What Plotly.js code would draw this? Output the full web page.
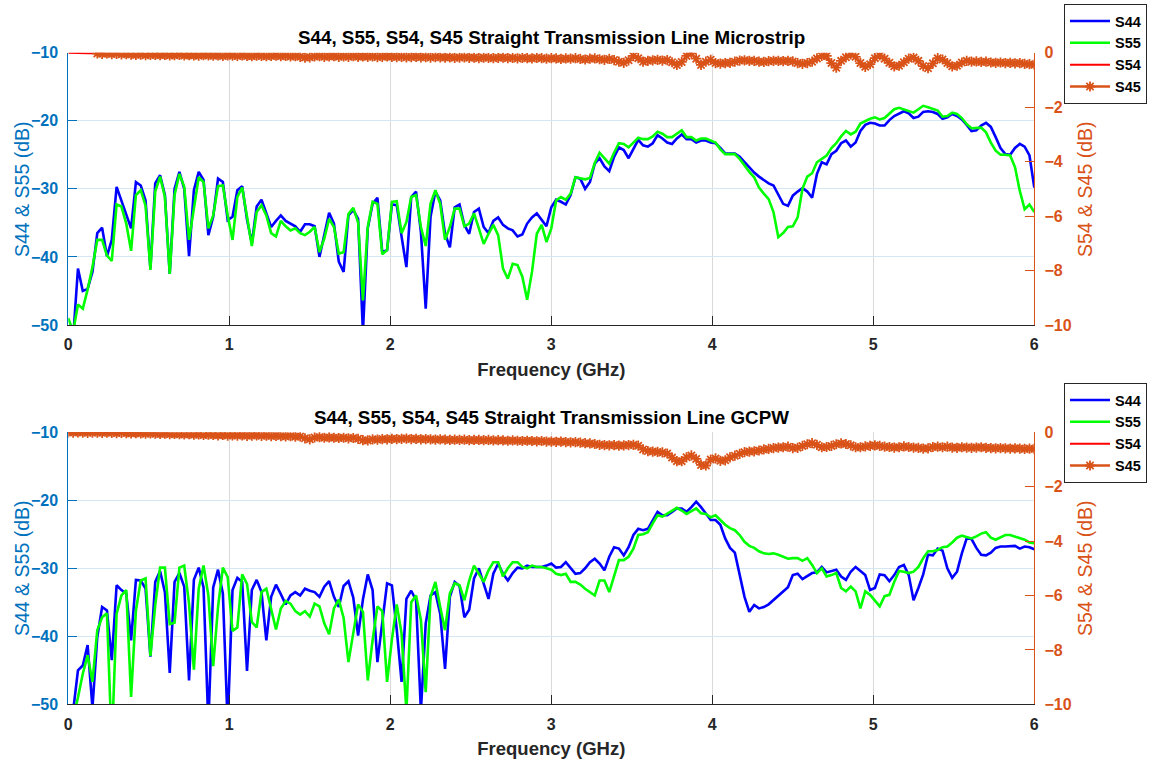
<!DOCTYPE html>
<html><head><meta charset="utf-8">
<script src="https://cdn.plot.ly/plotly-3.0.1.min.js"></script>
<style>html,body{margin:0;padding:0;background:#fff}</style>
</head><body><div id="chart" style="width:1149px;height:761px"></div>
<script>
// Frequency sweep: 0 to 6 GHz, 201 points (0.03 GHz step)
const freq = [];
for (let i = 0; i <= 200; i++) freq.push(+(i * 0.03).toFixed(2));

const xTicks = [0, 1, 2, 3, 4, 5, 6];
const leftTicks = [-50, -40, -30, -20, -10];
const rightTicks = [-10, -8, -6, -4, -2, 0];
const seriesNames = ['S44', 'S55', 'S54', 'S45'];
const titleTop = 'S44, S55, S54, S45 Straight Transmission Line Microstrip';
const titleBottom = 'S44, S55, S54, S45 Straight Transmission Line GCPW';
const xTitle = 'Frequency (GHz)';
const yLeftTitle = 'S44 & S55 (dB)';
const yRightTitle = 'S54 & S45 (dB)';

// ---------- Microstrip (top) ----------
const s44Top = [
-52,-52,-41.7,-45,-44.7,-42.2,-36.5,-35.7,-39.9,-37.5,-29.7,-31.7,-33.9,-35.8,-29,-29.5,-31.7,-41.7,-29.2,-28,-30.9,-42.5,-30,-27.5,-30,-39.9,-30.2,-27.5,-28.7,-36.8,-34.1,-28.5,-29,-34.6,-34.1,-30.2,-29.6,-34.5,-38,-32.6,-31.6,-33.6,-35.6,-34.7,-33.9,-34.7,-35.1,-35.5,-36.3,-35.2,-35.2,-35.5,-40,-36.6,-33.5,-35.1,-40.7,-42.2,-33.9,-33.1,-34.4,-51,-35.8,-32.2,-31.3,-39.3,-39,
-32.3,-32.4,-37,-41.5,-31.2,-30.4,-36.3,-47.6,-34.1,-30.4,-31.7,-36.6,-38.6,-32.7,-32.3,-35.3,-36.6,-33.4,-32.9,-35.6,-36.5,-34.7,-34.2,-35.3,-35.8,-36.1,-37,-36.7,-35.1,-34.2,-33.6,-34.6,-35.5,-32.7,-31.6,-31.9,-32.3,-30.9,-28.3,-28.5,-30,-29,-26.3,-25.5,-26.7,-27.4,-25.3,-23.9,-24.3,-25.5,-24.1,-22.8,-23.6,-23.8,-23.3,-22.1,-22.6,-23.2,-23.4,-22.6,-22,-22.7,-22.7,-23.2,-22.9,-22.9,-23.2,
-23.3,-24,-24.8,-24.8,-24.8,-25.3,-26.1,-26.9,-27.6,-28.2,-28.7,-29.2,-29.5,-30.9,-32.2,-32.5,-31,-30.4,-29.9,-30.4,-31.3,-27.8,-26.1,-26.4,-24.9,-24.4,-23.3,-22.9,-23.8,-23.2,-21.5,-20.6,-20.3,-20.4,-20.7,-20.7,-19.9,-19.3,-18.9,-18.6,-18.9,-19.6,-19.4,-18.7,-18.6,-18.7,-19,-19.7,-19.5,-19,-19.3,-19.8,-20.6,-21.5,-21.4,-20.7,-20.3,-20.9,-22.4,-24,-24.9,-25,-24,-23.4,-23.8,-25.1,-29.8
];
const s55Top = [
-49,-51,-47,-47.6,-44.8,-41.5,-37.5,-37.5,-39.8,-40.6,-32.3,-32.6,-35.1,-39.1,-30.9,-30.2,-32.5,-41.9,-30.4,-28.2,-31.2,-42.5,-30.9,-27.8,-29.7,-37.5,-32.9,-28.3,-29,-35.8,-33.9,-29.6,-29.5,-33.9,-37.5,-31.2,-29.8,-34.1,-38.4,-33.4,-32.4,-33.9,-36.5,-37,-34.7,-35.5,-36.1,-35.8,-36.5,-36.8,-36.3,-35.6,-39.3,-37.3,-34.4,-35.6,-39.5,-39.3,-33.7,-32.8,-34.9,-46.4,-35.6,-31.9,-32.2,-39.6,-39,
-31.9,-31.8,-36.5,-34.9,-31.2,-30.9,-35.6,-38.4,-32.2,-30.2,-32.2,-37.5,-35.6,-32.9,-32.9,-35.5,-35.1,-33.6,-35.8,-38.1,-36.6,-35.3,-36.8,-41.7,-43.2,-41,-41.2,-42.9,-46.3,-42.2,-36.6,-35.3,-37.8,-35.8,-31.7,-31.2,-31.6,-30.7,-28.3,-28.4,-28.6,-28.4,-26.2,-24.7,-25.5,-26.3,-24.7,-23.3,-23.4,-23.9,-23.2,-22.5,-22.7,-22.7,-22.3,-21.6,-21.9,-22.4,-22.4,-21.9,-21.4,-22.4,-22.4,-22.9,-22.6,-22.6,-22.9,
-23.2,-24.2,-24.9,-24.9,-24.9,-25.6,-26.6,-27.5,-28.3,-29.8,-30.7,-31.5,-33.4,-37.1,-36.5,-35.6,-35.5,-34.2,-30,-28.2,-27.7,-26.1,-25.6,-25.1,-24,-23.3,-22.3,-21.5,-22,-21.6,-20.4,-20,-19.7,-19.5,-19.8,-19.6,-18.9,-18.3,-18.1,-18.3,-18.5,-18.8,-18.3,-17.8,-18,-18.3,-18.5,-19.4,-19.3,-18.8,-19,-19.6,-20.5,-21.1,-21,-21,-21.7,-23.2,-24.4,-25,-25,-25.1,-26.8,-30.3,-33,-32.3,-33.4
];
const s54Top = [
0,-0.01,-0.01,-0.02,-0.02,-0.02,-0.03,-0.04,-0.03,-0.05,-0.04,-0.06,-0.05,-0.07,-0.08,-0.07,-0.09,-0.08,-0.08,-0.09,-0.08,-0.10,-0.09,-0.08,-0.10,-0.09,-0.10,-0.11,-0.09,-0.10,-0.11,-0.10,-0.12,-0.10,-0.11,-0.12,-0.10,-0.12,-0.13,-0.11,-0.12,-0.13,-0.12,-0.11,-0.13,-0.12,-0.14,-0.13,-0.15,-0.18,-0.17,-0.14,-0.13,-0.15,-0.14,-0.13,-0.15,-0.14,-0.15,-0.13,-0.15,-0.14,-0.15,-0.14,-0.16,-0.15,-0.14,
-0.15,-0.16,-0.15,-0.17,-0.16,-0.15,-0.17,-0.16,-0.18,-0.16,-0.17,-0.18,-0.17,-0.19,-0.18,-0.17,-0.19,-0.18,-0.20,-0.18,-0.19,-0.20,-0.19,-0.18,-0.20,-0.19,-0.21,-0.19,-0.20,-0.21,-0.19,-0.20,-0.22,-0.20,-0.21,-0.23,-0.21,-0.22,-0.20,-0.23,-0.25,-0.22,-0.21,-0.24,-0.26,-0.23,-0.27,-0.36,-0.40,-0.30,-0.12,-0.20,-0.33,-0.30,-0.28,-0.26,-0.29,-0.27,-0.38,-0.48,-0.37,-0.12,-0.02,-0.22,-0.45,-0.33,-0.26,
-0.38,-0.40,-0.38,-0.37,-0.33,-0.29,-0.28,-0.30,-0.30,-0.33,-0.34,-0.31,-0.30,-0.30,-0.31,-0.30,-0.32,-0.42,-0.45,-0.42,-0.33,-0.21,-0.12,-0.20,-0.42,-0.58,-0.30,-0.17,-0.06,-0.15,-0.42,-0.56,-0.46,-0.20,-0.10,-0.22,-0.41,-0.54,-0.52,-0.35,-0.22,-0.18,-0.30,-0.53,-0.60,-0.43,-0.20,-0.25,-0.38,-0.50,-0.48,-0.36,-0.30,-0.33,-0.32,-0.34,-0.33,-0.36,-0.37,-0.36,-0.38,-0.37,-0.39,-0.38,-0.41,-0.42,-0.44
];
const s45Top = [
0.3,0.3,0.3,0.3,0.3,0.3,-0.03,-0.04,-0.03,-0.05,-0.04,-0.06,-0.05,-0.07,-0.08,-0.07,-0.09,-0.08,-0.08,-0.09,-0.08,-0.10,-0.09,-0.08,-0.10,-0.09,-0.10,-0.11,-0.09,-0.10,-0.11,-0.10,-0.12,-0.10,-0.11,-0.12,-0.10,-0.12,-0.13,-0.11,-0.12,-0.13,-0.12,-0.11,-0.13,-0.12,-0.14,-0.13,-0.15,-0.18,-0.17,-0.14,-0.13,-0.15,-0.14,-0.13,-0.15,-0.14,-0.15,-0.13,-0.15,-0.14,-0.15,-0.14,-0.16,-0.15,-0.14,
-0.15,-0.16,-0.15,-0.17,-0.16,-0.15,-0.17,-0.16,-0.18,-0.16,-0.17,-0.18,-0.17,-0.19,-0.18,-0.17,-0.19,-0.18,-0.20,-0.18,-0.19,-0.20,-0.19,-0.18,-0.20,-0.19,-0.21,-0.19,-0.20,-0.21,-0.19,-0.20,-0.22,-0.20,-0.21,-0.23,-0.21,-0.22,-0.20,-0.23,-0.25,-0.22,-0.21,-0.24,-0.26,-0.23,-0.27,-0.33,-0.37,-0.28,-0.12,-0.20,-0.33,-0.30,-0.28,-0.26,-0.29,-0.27,-0.35,-0.45,-0.34,-0.12,-0.02,-0.22,-0.45,-0.33,-0.26,
-0.38,-0.40,-0.38,-0.37,-0.33,-0.29,-0.28,-0.30,-0.30,-0.33,-0.34,-0.31,-0.30,-0.30,-0.31,-0.30,-0.32,-0.38,-0.41,-0.38,-0.33,-0.21,-0.12,-0.12,-0.38,-0.55,-0.30,-0.17,-0.06,-0.15,-0.38,-0.52,-0.42,-0.20,-0.10,-0.22,-0.37,-0.50,-0.48,-0.35,-0.22,-0.18,-0.30,-0.49,-0.57,-0.39,-0.20,-0.25,-0.38,-0.50,-0.48,-0.36,-0.30,-0.33,-0.32,-0.34,-0.33,-0.36,-0.37,-0.36,-0.38,-0.37,-0.39,-0.38,-0.41,-0.42,-0.44
];

// ---------- GCPW (bottom) ----------
const s44Bot = [
-55,-51,-45,-44.3,-41.3,-50.5,-40.1,-35.7,-36.2,-43.5,-32.5,-33.2,-33.7,-40.6,-31.7,-31.8,-33,-43,-32,-30.4,-33.5,-45.4,-32,-30.7,-32.7,-46.5,-31.7,-29.9,-32.8,-53,-32.8,-30.2,-33.7,-53,-33.2,-31.4,-32,-45.1,-33.2,-31.7,-33.5,-40.6,-34.2,-32.4,-33.8,-35.3,-34,-33.5,-34,-33,-33.3,-33.5,-34.2,-32.7,-31.9,-34.2,-35.7,-32.6,-31.9,-34.3,-39.9,-34.6,-30.9,-33.2,-43.8,-37.6,-32.2,
-32.5,-39,-46.7,-34.5,-33.3,-34.7,-51,-38.1,-34,-33.5,-36.7,-44.8,-34.2,-32,-32.6,-37.2,-36.1,-31.5,-30,-32.3,-34.5,-30.8,-29.3,-30.8,-31.8,-30.7,-29.9,-30,-29.6,-29.8,-29.8,-29.8,-29.6,-29.3,-29.9,-29.8,-29.1,-30,-30.8,-30.7,-30,-29.1,-28.6,-29.3,-30.3,-28.3,-26.9,-27.1,-28.1,-26.9,-25.1,-24.2,-24.4,-24.2,-22.9,-21.7,-22.2,-22.2,-21.7,-21.2,-21.2,-21.7,-21,-20.2,-21,-22,-22.9,
-22.9,-23.6,-25.6,-27,-27.7,-31,-34.2,-36.4,-35.4,-35.9,-35.7,-35.3,-34.7,-34,-33.4,-32.8,-31,-30.8,-31.6,-31.2,-30.7,-30.6,-29.8,-30.6,-30.4,-30.2,-31.2,-31.7,-30.5,-29.8,-30.4,-31,-33.2,-32.9,-30.9,-31,-31.9,-31,-29.8,-29.5,-31,-34.7,-32.9,-30.9,-28,-28.1,-27.1,-27.4,-30,-31.4,-30.5,-27.8,-25.6,-25.7,-27,-28,-28.1,-27.7,-27,-26.8,-26.8,-26.8,-26.7,-27.1,-26.8,-26.9,-27.2
];
const s55Bot = [
-55,-52,-49,-45.5,-42.8,-46.7,-39.1,-37.2,-36.6,-56,-36.7,-34,-33.2,-48.9,-36.2,-31.8,-31.5,-42.9,-35.4,-29.9,-29.9,-38.2,-38,-29.9,-29.6,-35.2,-44.9,-33,-29.6,-34,-44.4,-35.7,-29.9,-31.3,-39.2,-38.7,-30.9,-32.3,-37.9,-38.7,-33.5,-33,-35.9,-39,-35.9,-34.8,-35.2,-36.3,-36.8,-36.3,-37.1,-35.2,-35.6,-38.1,-39.7,-35.9,-34.6,-37.3,-43.8,-39.2,-35.3,-36.4,-46.5,-40.6,-35.6,-36.3,-46.7,
-40.5,-35.3,-39.6,-51,-35,-34,-37.6,-48.2,-34.2,-32,-35.7,-39.1,-33.7,-32.2,-32.5,-34.7,-31.8,-29.6,-30.8,-32,-30.3,-29.1,-29.1,-31.2,-30,-29.1,-29.1,-29.8,-30,-29.6,-29.8,-29.8,-30,-30.2,-30.8,-31,-30.8,-32,-32,-32.4,-33,-33.5,-34,-31.8,-31.8,-33.5,-31,-28.8,-28.8,-28.3,-27.1,-25.1,-25,-24.7,-23.4,-22.2,-22.4,-22,-21.5,-21.1,-21.5,-22,-21.6,-21.2,-21.9,-22,-22.5,
-22.2,-22.9,-23.6,-24.1,-24.4,-25.1,-26.1,-26.7,-27,-27.5,-27.8,-27.9,-27.8,-28,-28.3,-28.6,-28.5,-28.5,-28.9,-28.5,-29.5,-30.7,-30,-31.2,-31,-30.7,-32.9,-33.4,-32.7,-33.4,-35.9,-33.4,-33.9,-34.7,-35.6,-34.1,-33.9,-32,-30.4,-30.5,-30.7,-30.5,-29.8,-28.5,-27.5,-27.5,-27.3,-26.9,-26.8,-26.2,-25.5,-25.2,-25.4,-25.6,-25.3,-24.9,-24.7,-25.5,-25.8,-25.4,-25.1,-25.1,-25.3,-25.6,-25.8,-26.2,-26.3
];
const s54Bot = [
0,-0.01,0,-0.01,-0.02,-0.01,-0.01,-0.02,-0.01,-0.02,-0.03,-0.02,-0.03,-0.04,-0.03,-0.04,-0.05,-0.04,-0.05,-0.06,-0.05,-0.07,-0.06,-0.07,-0.08,-0.07,-0.09,-0.08,-0.10,-0.09,-0.10,-0.11,-0.10,-0.12,-0.11,-0.12,-0.11,-0.13,-0.12,-0.11,-0.13,-0.12,-0.14,-0.13,-0.14,-0.15,-0.14,-0.16,-0.15,-0.22,-0.26,-0.19,-0.18,-0.20,-0.19,-0.20,-0.21,-0.20,-0.22,-0.21,-0.24,-0.29,-0.30,-0.26,-0.27,-0.25,-0.26,
-0.24,-0.25,-0.24,-0.23,-0.25,-0.24,-0.26,-0.25,-0.26,-0.27,-0.26,-0.27,-0.28,-0.27,-0.28,-0.27,-0.29,-0.28,-0.28,-0.29,-0.28,-0.30,-0.29,-0.30,-0.31,-0.30,-0.31,-0.32,-0.31,-0.32,-0.33,-0.32,-0.34,-0.34,-0.35,-0.34,-0.36,-0.37,-0.36,-0.38,-0.40,-0.41,-0.43,-0.46,-0.47,-0.48,-0.47,-0.49,-0.48,-0.47,-0.46,-0.49,-0.63,-0.69,-0.71,-0.72,-0.74,-0.78,-0.93,-1.06,-1.06,-0.92,-0.85,-0.98,-1.20,-1.22,-1.00,
-0.96,-1.05,-1.03,-0.92,-0.86,-0.79,-0.73,-0.71,-0.70,-0.67,-0.63,-0.61,-0.58,-0.56,-0.55,-0.53,-0.58,-0.57,-0.47,-0.40,-0.37,-0.46,-0.55,-0.54,-0.50,-0.44,-0.41,-0.43,-0.48,-0.55,-0.55,-0.52,-0.50,-0.48,-0.50,-0.53,-0.54,-0.53,-0.52,-0.50,-0.54,-0.56,-0.57,-0.60,-0.59,-0.54,-0.50,-0.51,-0.53,-0.56,-0.57,-0.55,-0.56,-0.57,-0.56,-0.55,-0.57,-0.58,-0.59,-0.58,-0.59,-0.60,-0.59,-0.60,-0.61,-0.60,-0.61
];
const s45Bot = [
0,-0.01,0,-0.01,-0.02,-0.01,-0.01,-0.02,-0.01,-0.02,-0.03,-0.02,-0.03,-0.04,-0.03,-0.04,-0.05,-0.04,-0.05,-0.06,-0.05,-0.07,-0.06,-0.07,-0.08,-0.07,-0.09,-0.08,-0.10,-0.09,-0.10,-0.11,-0.10,-0.12,-0.11,-0.12,-0.11,-0.13,-0.12,-0.11,-0.13,-0.12,-0.14,-0.13,-0.14,-0.15,-0.14,-0.16,-0.15,-0.22,-0.26,-0.19,-0.18,-0.20,-0.19,-0.20,-0.21,-0.20,-0.22,-0.21,-0.24,-0.29,-0.30,-0.26,-0.27,-0.25,-0.26,
-0.24,-0.25,-0.24,-0.23,-0.25,-0.24,-0.26,-0.25,-0.26,-0.27,-0.26,-0.27,-0.28,-0.27,-0.28,-0.27,-0.29,-0.28,-0.28,-0.29,-0.28,-0.30,-0.29,-0.30,-0.31,-0.30,-0.31,-0.32,-0.31,-0.32,-0.33,-0.32,-0.34,-0.34,-0.35,-0.34,-0.36,-0.37,-0.36,-0.38,-0.40,-0.41,-0.43,-0.46,-0.47,-0.48,-0.47,-0.49,-0.48,-0.47,-0.46,-0.49,-0.63,-0.69,-0.71,-0.72,-0.74,-0.78,-0.93,-1.06,-1.06,-0.92,-0.85,-0.98,-1.20,-1.22,-1.00,
-0.96,-1.05,-1.03,-0.92,-0.86,-0.79,-0.73,-0.71,-0.70,-0.67,-0.63,-0.61,-0.58,-0.56,-0.55,-0.53,-0.58,-0.57,-0.50,-0.44,-0.40,-0.46,-0.55,-0.54,-0.50,-0.44,-0.41,-0.43,-0.48,-0.55,-0.55,-0.52,-0.50,-0.48,-0.50,-0.53,-0.54,-0.56,-0.55,-0.52,-0.54,-0.56,-0.57,-0.60,-0.59,-0.54,-0.53,-0.55,-0.53,-0.56,-0.57,-0.55,-0.56,-0.57,-0.56,-0.55,-0.57,-0.58,-0.59,-0.58,-0.59,-0.60,-0.59,-0.60,-0.61,-0.60,-0.61
];

// ---------- styling ----------
const W = 1149, H = 761;
const FONT = 'Liberation Sans, Arial, Helvetica, sans-serif';
const BLUE_AX = '#0072BD', ORANGE_AX = '#D95319', DARK = '#262626';
const px = v => v / W, py = v => 1 - v / H;
const xDom = [px(68.3), px(1034.3)];

function traces(s44, s55, s54, s45, xa, yl, yr, lg) {
  return [
    {x: freq, y: s44, xaxis: xa, yaxis: yl, name: seriesNames[0], legend: lg, mode: 'lines',
     line: {color: '#0000FF', width: 2.6}},
    {x: freq, y: s55, xaxis: xa, yaxis: yl, name: seriesNames[1], legend: lg, mode: 'lines',
     line: {color: '#00FF00', width: 2.6}},
    {x: freq, y: s54, xaxis: xa, yaxis: yr, name: seriesNames[2], legend: lg, mode: 'lines',
     line: {color: '#FF0000', width: 2}},
    {x: freq, y: s45, xaxis: xa, yaxis: yr, name: seriesNames[3], legend: lg, mode: 'lines+markers',
     line: {color: ORANGE_AX, width: 2.6},
     marker: {symbol: 'asterisk-open', size: 8.5, color: ORANGE_AX, line: {color: ORANGE_AX, width: 1.8}}}
  ];
}

function xAxis(anchor) {
  return {domain: xDom, anchor: anchor, range: [0, 6], tickvals: xTicks, ticks: 'inside', ticklen: 9,
    tickcolor: DARK, showline: true, linecolor: DARK, linewidth: 1, showgrid: true, gridcolor: '#d9d9d9',
    zeroline: false, ticklabelstandoff: 5, tickfont: {family: FONT, size: 16, color: DARK, weight: 'bold'},
    title: {text: xTitle, font: {family: FONT, size: 18.5, color: DARK, weight: 'bold'}, standoff: 10}};
}
function yLeft(dom, anchor) {
  return {domain: dom, anchor: anchor, range: [-50, -10], tickvals: leftTicks, ticks: 'inside', ticklen: 9,
    tickcolor: BLUE_AX, showline: true, linecolor: BLUE_AX, linewidth: 1, showgrid: true, gridcolor: '#d6e7f4',
    zeroline: false, ticklabelstandoff: 6, tickfont: {family: FONT, size: 16, color: BLUE_AX, weight: 'bold'}};
}
function yRight(over, anchor) {
  return {overlaying: over, side: 'right', anchor: anchor, range: [-10, 0], tickvals: rightTicks, ticks: 'inside',
    ticklen: 9, tickcolor: ORANGE_AX, showline: true, linecolor: ORANGE_AX, linewidth: 1, showgrid: false,
    zeroline: false, ticklabelstandoff: 6, tickfont: {family: FONT, size: 16, color: ORANGE_AX, weight: 'bold'}};
}
function legendBox(yTop) {
  return {x: px(1064), y: py(yTop), xanchor: 'left', yanchor: 'top', bgcolor: '#ffffff',
    bordercolor: DARK, borderwidth: 1, font: {family: FONT, size: 14.5, color: '#000', weight: 'bold'},
    tracegroupgap: 0, itemwidth: 40};
}
function note(text, x, y, size, color, weight, angle) {
  return {text: text, xref: 'paper', yref: 'paper', x: px(x), y: py(y), xanchor: 'center', yanchor: 'middle',
    showarrow: false, textangle: angle || 0, font: {family: FONT, size: size, color: color, weight: weight}};
}

const data = [].concat(
  traces(s44Top, s55Top, s54Top, s45Top, 'x', 'y', 'y2', 'legend'),
  traces(s44Bot, s55Bot, s54Bot, s45Bot, 'x2', 'y3', 'y4', 'legend2')
);

const layout = {
  width: W, height: H, margin: {l: 0, r: 0, t: 0, b: 0},
  paper_bgcolor: '#fff', plot_bgcolor: '#fff', font: {family: FONT},
  showlegend: true,
  xaxis: xAxis('y'),
  yaxis: yLeft([py(325), py(52.7)], 'x'),
  yaxis2: yRight('y', 'x'),
  xaxis2: xAxis('y3'),
  yaxis3: yLeft([py(704.3), py(432.3)], 'x2'),
  yaxis4: yRight('y3', 'x2'),
  legend: legendBox(4),
  legend2: legendBox(383),
  annotations: [
    note(titleTop, 551, 37, 18.8, '#000', 'bold'),
    note(titleBottom, 551, 417, 18.8, '#000', 'bold'),
    note(yLeftTitle, 22, 189, 19.5, BLUE_AX, 'normal', -90),
    note(yRightTitle, 1085, 189, 19.5, ORANGE_AX, 'normal', -90),
    note(yLeftTitle, 22, 568, 19.5, BLUE_AX, 'normal', -90),
    note(yRightTitle, 1085, 568, 19.5, ORANGE_AX, 'normal', -90)
  ]
};

Plotly.newPlot('chart', data, layout, {displayModeBar: false, staticPlot: true});
</script></body></html>
